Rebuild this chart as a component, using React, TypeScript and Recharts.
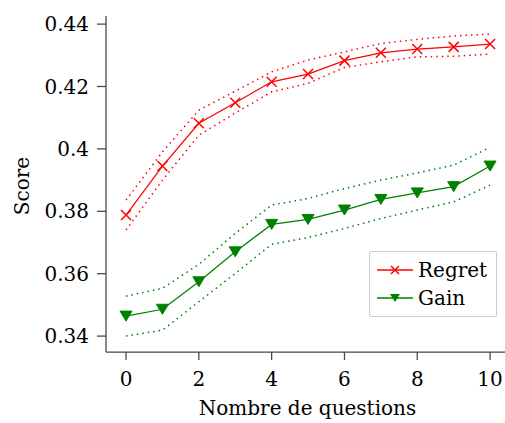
import { Line, LineChart, XAxis, YAxis } from "recharts";

// nombre de questions posées
const questions = [0, 1, 2, 3, 4, 5, 6, 7, 8, 9, 10];

const regret = [0.3788, 0.3945, 0.4082, 0.4148, 0.4215, 0.424, 0.4283, 0.4308, 0.432, 0.4327, 0.4336];
const regretUpper = [0.3836, 0.399, 0.4124, 0.4185, 0.4247, 0.4285, 0.4311, 0.4338, 0.4351, 0.4362, 0.4368];
const regretLower = [0.374, 0.39, 0.4044, 0.4115, 0.4183, 0.421, 0.4261, 0.4279, 0.4295, 0.4297, 0.4304];

const gain = [0.3464, 0.3486, 0.3574, 0.367, 0.3758, 0.3774, 0.3804, 0.3838, 0.3859, 0.3879, 0.3945];
const gainUpper = [0.3528, 0.3553, 0.363, 0.3729, 0.382, 0.3841, 0.3873, 0.39, 0.3923, 0.3948, 0.4005];
const gainLower = [0.34, 0.3419, 0.351, 0.3601, 0.3694, 0.3716, 0.3745, 0.3777, 0.3804, 0.383, 0.3884];

const xTicks = [0, 2, 4, 6, 8, 10];
const yTicks = [0.34, 0.36, 0.38, 0.4, 0.42, 0.44];

const RED = "#ff0000";
const GREEN = "#008000";
const FONT = "'DejaVu Serif', serif";

const legendItems = [
    { name: "Regret", color: RED, marker: "x" },
    { name: "Gain", color: GREEN, marker: "v" },
];

const data = questions.map((q, i) => ({
    q,
    regret: regret[i],
    regretUpper: regretUpper[i],
    regretLower: regretLower[i],
    gain: gain[i],
    gainUpper: gainUpper[i],
    gainLower: gainLower[i],
}));

const CrossDot = (props: any) => {
    const { cx, cy } = props;
    if (cx == null || cy == null) return null;
    const r = 5;
    return (
        <path d={`M${cx - r},${cy - r}L${cx + r},${cy + r}M${cx - r},${cy + r}L${cx + r},${cy - r}`}
              stroke={RED} strokeWidth={1.5} fill="none" />
    );
};

const TriangleDot = (props: any) => {
    const { cx, cy } = props;
    if (cx == null || cy == null) return null;
    return (
        <path d={`M${cx - 6},${cy - 5}L${cx + 6},${cy - 5}L${cx},${cy + 5}Z`} fill={GREEN} stroke={GREEN} />
    );
};

const LegendBox = () => (
    <div style={{
        position: "absolute", left: 369, top: 251, width: 126, height: 64,
        border: "1px solid #cccccc", borderRadius: 2, background: "white",
        fontFamily: FONT, fontSize: 20, color: "#000",
    }}>
        {legendItems.map((item, i) => (
            <div key={item.name} style={{ position: "absolute", left: 0, top: 4 + i * 28, height: 28, display: "flex", alignItems: "center" }}>
                <svg width={46} height={28}>
                    <line x1={7} y1={14} x2={43} y2={14} stroke={item.color} strokeWidth={1.5} />
                    {item.marker === "x"
                        ? <path d="M21,10L29,18M21,18L29,10" stroke={item.color} strokeWidth={1.5} />
                        : <path d="M20,10L30,10L25,18Z" fill={item.color} />}
                </svg>
                <span style={{ marginLeft: 2 }}>{item.name}</span>
            </div>
        ))}
    </div>
);

export default function App() {
    const tickStyle = { fontFamily: FONT, fontSize: 20, fill: "#000" };
    return (
        <div style={{ position: "absolute", left: 0, top: 0, width: 505, height: 423, background: "white" }}>
            <LineChart width={505} height={423} data={data}
                       margin={{ top: 16, right: 0, bottom: 0, left: 6 }}>
                <XAxis dataKey="q" type="number" domain={[-0.55, 10.41]} ticks={xTicks}
                       allowDataOverflow height={71} tickSize={8} tickMargin={12}
                       tick={tickStyle} axisLine={{ stroke: "#444", strokeWidth: 1.25 }}
                       tickLine={{ stroke: "#444", strokeWidth: 1.25 }}
                       label={(p: any) => {
                           const vb = p.viewBox;
                           return <text x={vb.x + vb.width / 2 + 2} y={415} textAnchor="middle"
                                        fontFamily={FONT} fontSize={20} fill="#000">Nombre de questions</text>;
                       }} />
                <YAxis type="number" domain={[0.3349, 0.4426]} ticks={yTicks} allowDataOverflow
                       width={100} tickSize={9} tickMargin={8} tick={tickStyle}
                       axisLine={{ stroke: "#444", strokeWidth: 1.25 }}
                       tickLine={{ stroke: "#444", strokeWidth: 1.25 }}
                       label={() => (
                           <text x={22} y={186} transform="rotate(-90 22 186)" textAnchor="middle"
                                 dominantBaseline="central" fontFamily={FONT} fontSize={20} fill="#000">Score</text>
                       )} />
                <Line type="linear" dataKey="regretUpper" stroke={RED} strokeWidth={1.5} strokeDasharray="1.5 4"
                      dot={false} isAnimationActive={false} legendType="none" />
                <Line type="linear" dataKey="regretLower" stroke={RED} strokeWidth={1.5} strokeDasharray="1.5 4"
                      dot={false} isAnimationActive={false} legendType="none" />
                <Line type="linear" dataKey="gainUpper" stroke={GREEN} strokeWidth={1.5} strokeDasharray="1.5 4"
                      dot={false} isAnimationActive={false} legendType="none" />
                <Line type="linear" dataKey="gainLower" stroke={GREEN} strokeWidth={1.5} strokeDasharray="1.5 4"
                      dot={false} isAnimationActive={false} legendType="none" />
                <Line type="linear" dataKey="regret" name="Regret" stroke={RED} strokeWidth={1.25}
                      dot={<CrossDot />} activeDot={false} isAnimationActive={false} />
                <Line type="linear" dataKey="gain" name="Gain" stroke={GREEN} strokeWidth={1.25}
                      dot={<TriangleDot />} activeDot={false} isAnimationActive={false} />
            </LineChart>
            <LegendBox />
        </div>
    );
}
